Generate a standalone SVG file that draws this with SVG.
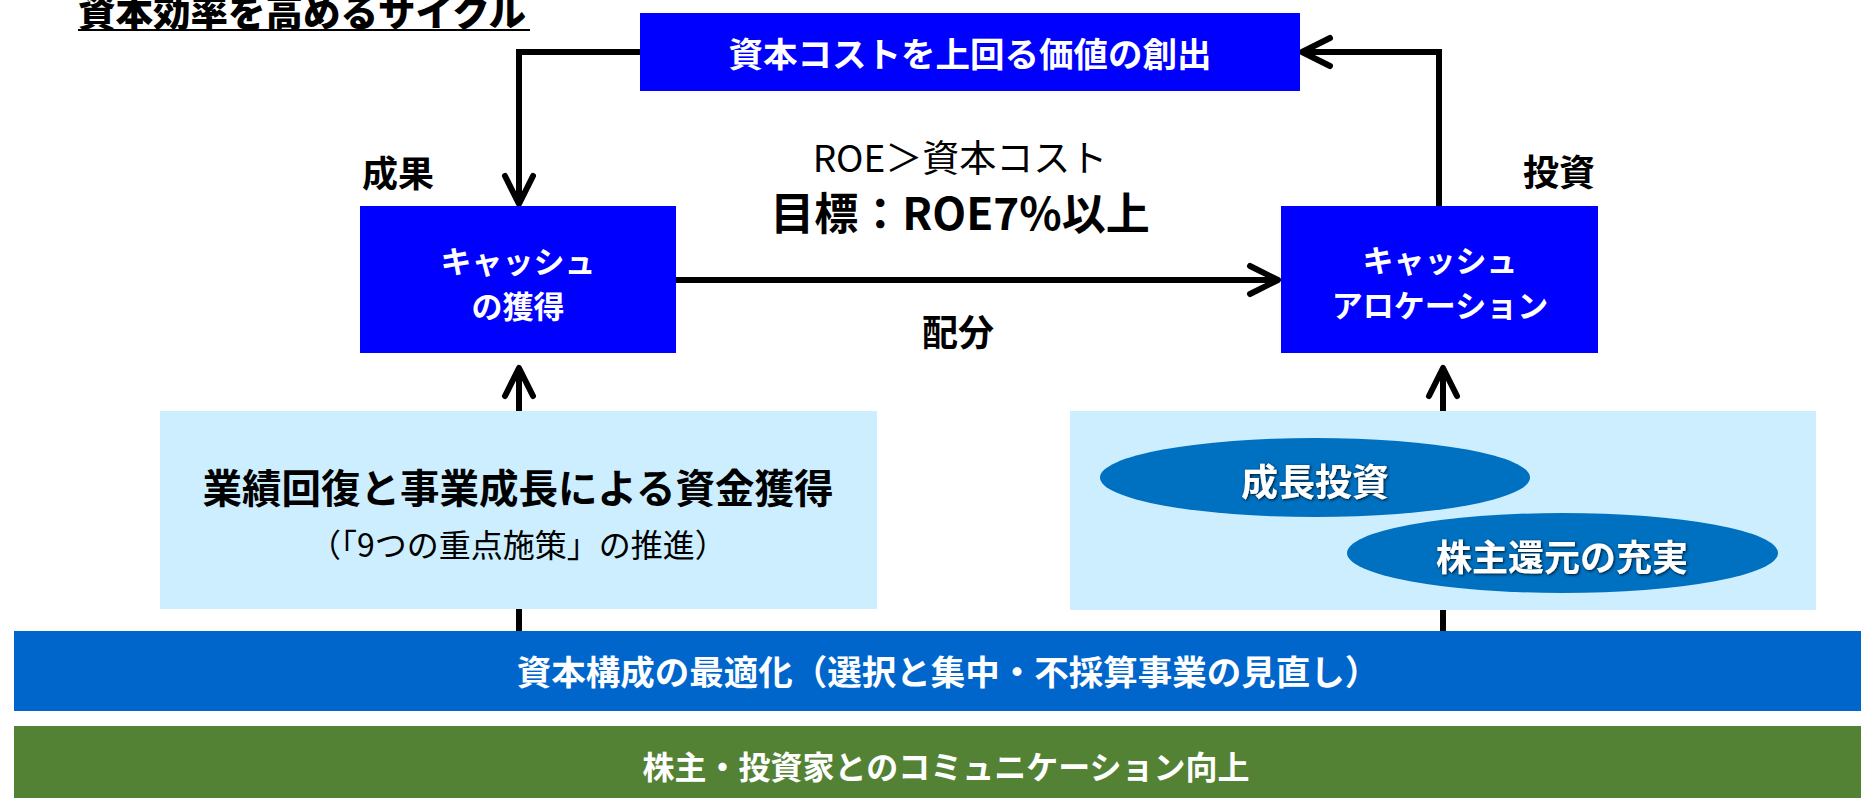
<svg xmlns="http://www.w3.org/2000/svg" width="1861" height="798" viewBox="0 0 1861 798">
  <style>
    text { font-family: "Noto Sans CJK JP", "Noto Sans", sans-serif; dominant-baseline: central; text-anchor: middle; }
    .b { font-weight: 700; }
    .w { fill: #ffffff; }
    .k { fill: #000000; }
    .box { fill: #0000ff; }
    .light { fill: #cceeff; }
    .ell { fill: #0070c0; }
    .conn { fill: none; stroke: #000000; stroke-width: 6; }
  </style>
  <defs>
    <marker id="arr" markerUnits="userSpaceOnUse" viewBox="-34 -18 38 36" refX="0" refY="0" markerWidth="38" markerHeight="36" orient="auto" overflow="visible">
      <path d="M -28 -14 L 0 0 L -28 14" fill="none" stroke="#000000" stroke-width="6" stroke-linecap="round" stroke-linejoin="round"/>
    </marker>
    <filter id="glow" x="-10%" y="-30%" width="120%" height="160%">
      <feDropShadow dx="1" dy="1" stdDeviation="1.5" flood-color="#000000" flood-opacity="0.85"/>
    </filter>
  </defs>

  <g id="title">
    <text x="78" y="9" class="b k" style="text-anchor:start;font-size:37.5px;font-weight:900">資本効率を高めるサイクル</text>
    <line x1="78" y1="30" x2="530" y2="30" stroke="#000000" stroke-width="2"/>
  </g>

  <g id="connectors">
    <path class="conn" d="M 640 52 H 519 V 204" marker-end="url(#arr)"/>
    <path class="conn" d="M 1439 206 V 52 H 1302" marker-end="url(#arr)"/>
    <path class="conn" d="M 676 280 H 1278" marker-end="url(#arr)"/>
    <path class="conn" d="M 519 631 V 368" marker-end="url(#arr)"/>
    <path class="conn" d="M 1443 631 V 368" marker-end="url(#arr)"/>
  </g>

  <g id="node-value">
    <rect class="box" x="640" y="13" width="660" height="78"/>
    <text x="970" y="52" class="b w" style="font-size:34.5px">資本コストを上回る価値の創出</text>
  </g>

  <g id="label-seika">
    <text x="398" y="171" class="b k" style="font-size:36px">成果</text>
  </g>
  <g id="label-toushi">
    <text x="1559" y="170" class="b k" style="font-size:36px">投資</text>
  </g>

  <g id="label-roe">
    <text x="960" y="156" class="k" style="font-size:37px">ROE＞資本コスト</text>
    <text x="960" y="211" class="b k" style="font-size:44px">目標：ROE7%以上</text>
  </g>

  <g id="node-cash-gain">
    <rect class="box" x="360" y="206" width="316" height="147"/>
    <text x="518" y="259" class="b w" style="font-size:31px">キャッシュ</text>
    <text x="518" y="304" class="b w" style="font-size:31px">の獲得</text>
  </g>

  <g id="node-cash-alloc">
    <rect class="box" x="1281" y="206" width="317" height="147"/>
    <text x="1440" y="258" class="b w" style="font-size:31px">キャッシュ</text>
    <text x="1440" y="303" class="b w" style="font-size:31px">アロケーション</text>
  </g>

  <g id="label-haibun">
    <text x="958" y="330" class="b k" style="font-size:36px">配分</text>
  </g>

  <g id="node-earnings">
    <rect class="light" x="160" y="411" width="717" height="198"/>
    <text x="518" y="485" class="b k" style="font-size:39.5px">業績回復と事業成長による資金獲得</text>
    <text x="518" y="543" class="k" style="font-size:32px">（「9つの重点施策」の推進）</text>
  </g>

  <g id="node-allocation">
    <rect class="light" x="1070" y="411" width="746" height="199"/>
  </g>
  <g id="node-growth">
    <ellipse class="ell" cx="1315" cy="477.5" rx="215" ry="39.5"/>
    <text x="1315" y="480" class="b w" style="font-size:37px" filter="url(#glow)">成長投資</text>
  </g>
  <g id="node-return">
    <ellipse class="ell" cx="1562.5" cy="553" rx="215.5" ry="40"/>
    <text x="1562" y="555" class="b w" style="font-size:36px" filter="url(#glow)">株主還元の充実</text>
  </g>

  <g id="band-capital">
    <rect x="14" y="631" width="1847" height="80" fill="#0066cc"/>
    <text x="948" y="670" class="b w" style="font-size:34.5px">資本構成の最適化（選択と集中・不採算事業の見直し）</text>
  </g>

  <g id="band-communication">
    <rect x="14" y="726" width="1847" height="72" fill="#548235"/>
    <text x="946" y="765" class="b w" style="font-size:32px">株主・投資家とのコミュニケーション向上</text>
  </g>
</svg>
